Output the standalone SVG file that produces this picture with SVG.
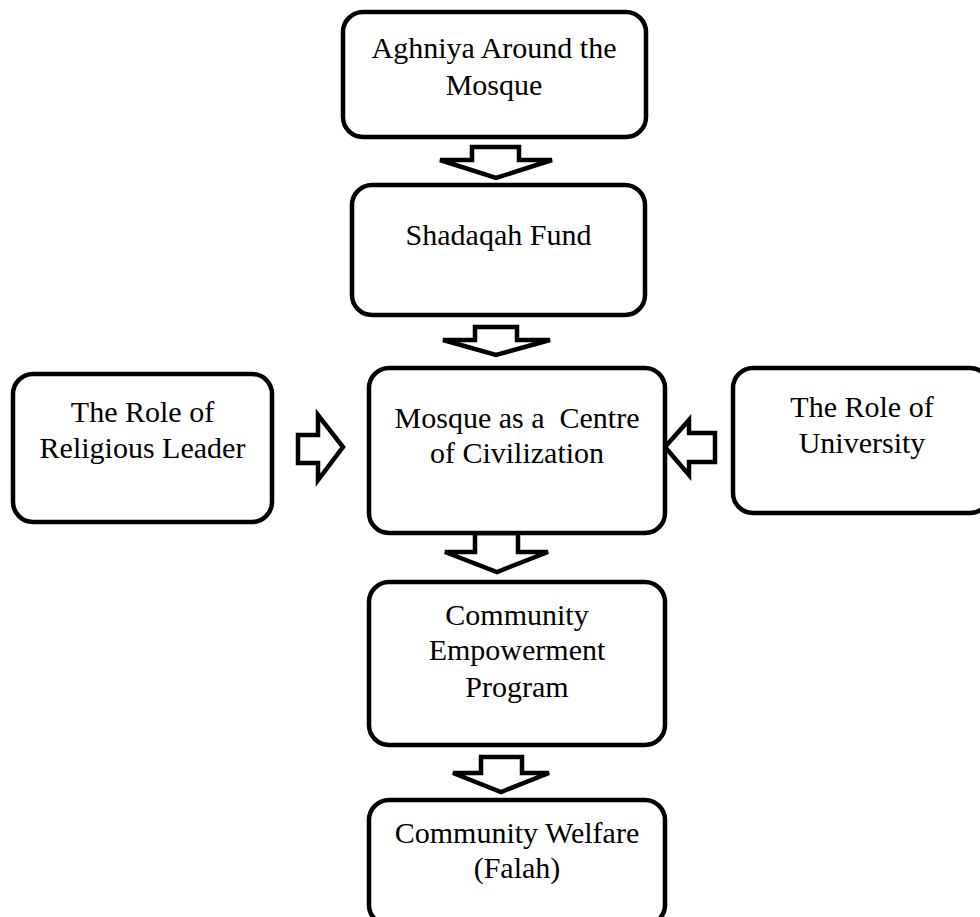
<svg xmlns="http://www.w3.org/2000/svg" width="980" height="917" viewBox="0 0 980 917">
<style>
.box{fill:#fff;stroke:#000;stroke-width:4.5}
.arr{fill:#fff;stroke:#000;stroke-width:4.5;stroke-linejoin:miter}
text{font-family:"Liberation Serif","Times New Roman",serif;font-size:30px;fill:#000;text-anchor:middle;white-space:pre}
</style>
<rect width="980" height="917" fill="#fff"/>
<g id="connectors">
<polygon class="arr" points="472,147 519,147 519,160 552,160 496,178 440,160 472,160"/>
<polygon class="arr" points="475,327 517,327 517,340 550,340 496,355 443,340 475,340"/>
<polygon class="arr" points="475,533 518,533 518,552 548,552 497,572 445,552 475,552"/>
<polygon class="arr" points="481,757 522,757 522,773 549,773 501,792 453,773 481,773"/>
<polygon class="arr" points="298,435 318,435 318,415 343,447 318,480 318,463 298,463"/>
<polygon class="arr" points="715,433 689,433 689,420 665,447 689,475 689,462 715,462"/>
</g>
<g id="aghniya">
<rect class="box" x="343" y="12" width="303" height="125" rx="20"/>
<text x="494" y="58">Aghniya Around the</text>
<text x="494" y="95">Mosque</text>
</g>
<g id="shadaqah">
<rect class="box" x="352" y="185" width="293" height="130" rx="20"/>
<text x="498.5" y="245">Shadaqah Fund</text>
</g>
<g id="mosque">
<rect class="box" x="369" y="368" width="296" height="165" rx="20"/>
<text x="517" y="428" xml:space="preserve">Mosque as a  Centre</text>
<text x="517" y="463">of Civilization</text>
</g>
<g id="religious">
<rect class="box" x="13" y="374" width="259" height="148" rx="20"/>
<text x="142.5" y="422">The Role of</text>
<text x="142.5" y="458">Religious Leader</text>
</g>
<g id="university">
<rect class="box" x="733" y="368" width="257" height="145" rx="20"/>
<text x="862" y="417">The Role of</text>
<text x="862" y="453">University</text>
</g>
<g id="empowerment">
<rect class="box" x="369" y="582" width="296" height="163" rx="20"/>
<text x="517" y="625">Community</text>
<text x="517" y="660">Empowerment</text>
<text x="517" y="697">Program</text>
</g>
<g id="welfare">
<rect class="box" x="369" y="800" width="296" height="125" rx="20"/>
<text x="517" y="843">Community Welfare</text>
<text x="517" y="878">(Falah)</text>
</g>
</svg>
